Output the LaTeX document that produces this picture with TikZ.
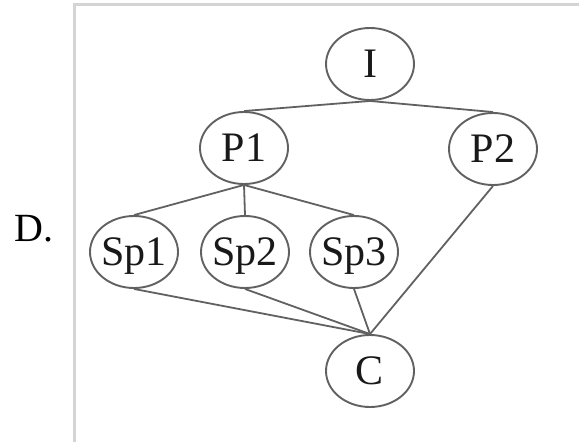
\documentclass[tikz,border=0pt]{standalone}
\usepackage{fontspec}
\setmainfont{Liberation Serif}
\usetikzlibrary{shapes.geometric}
\begin{document}
\begin{tikzpicture}[x=1pt,y=-1pt,
		state/.style={draw=black!62,line width=1.9pt,ellipse,minimum width=88pt,minimum height=72pt,inner sep=-2pt,text depth=0pt,text=black!90,font=\fontsize{42}{50}\selectfont},
		edge/.style={draw=black!62,line width=1.8pt}]
			\useasboundingbox (0,0) rectangle (579,442);
			\draw[black!17,line width=3pt] (74.5,442) -- (74.5,4.5) -- (579,4.5);
			\node[anchor=base west,inner sep=0pt,font=\fontsize{40}{48}\selectfont] (lab) at (14,241) {D.};
			\node[state] (I) at (370,64) {I};
			\node[state] (P1) at (244,148) {P1};
			\node[state] (P2) at (493,149) {P2};
			\node[state] (Sp1) at (134,252) {Sp1};
			\node[state] (Sp2) at (245,252) {Sp2};
			\node[state] (Sp3) at (354,252) {Sp3};
			\node[state] (C) at (370,371) {C};
			\draw[edge] (I.south) -- (P1.north);
			\draw[edge] (I.south) -- (P2.north);
			\draw[edge] (P1.south) -- (Sp1.north);
			\draw[edge] (P1.south) -- (Sp2.north);
			\draw[edge] (P1.south) -- (Sp3.north);
			\draw[edge] (Sp1.south) -- (C.north);
			\draw[edge] (Sp2.south) -- (C.north);
			\draw[edge] (Sp3.south) -- (C.north);
			\draw[edge] (P2.south) -- (C.north);
\end{tikzpicture}
\end{document}
